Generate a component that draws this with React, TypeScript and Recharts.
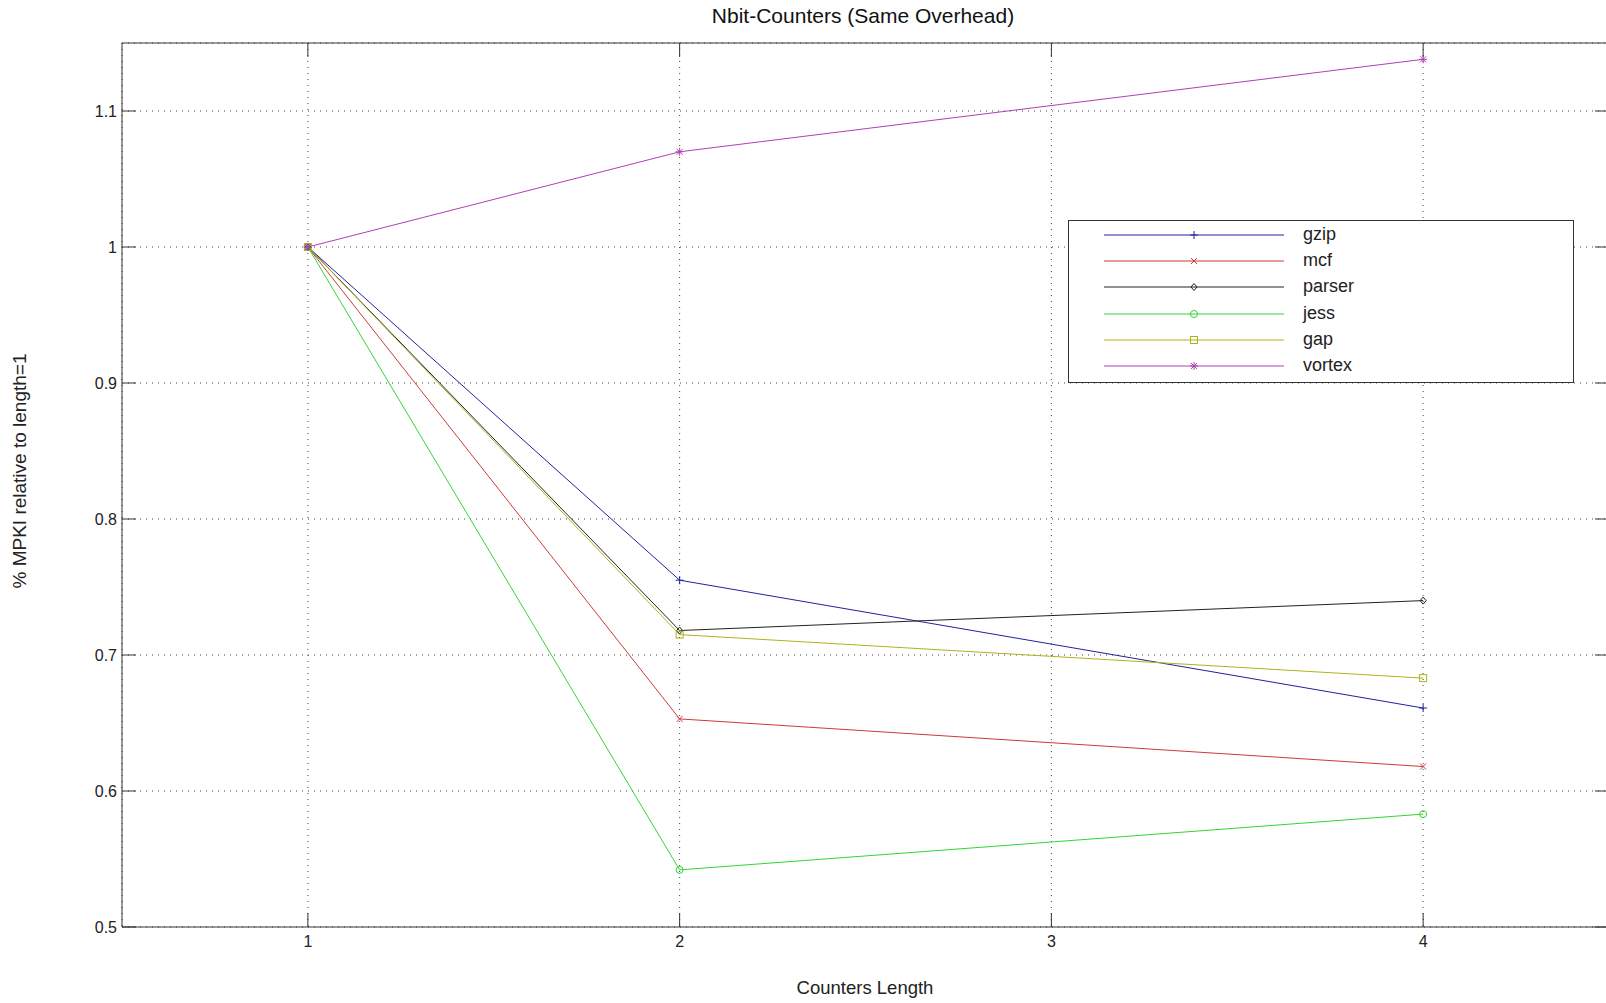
import { CartesianGrid, Line, LineChart, XAxis, YAxis } from 'recharts';

const lengths = [1, 2, 4];
const gzip = [1, 0.755, 0.661];
const mcf = [1, 0.653, 0.618];
const parser = [1, 0.718, 0.74];
const jess = [1, 0.542, 0.583];
const gap = [1, 0.715, 0.683];
const vortex = [1, 1.07, 1.138];

const xTicks = [1, 2, 3, 4];
const yTicks = [0.5, 0.6, 0.7, 0.8, 0.9, 1, 1.1];

const series = [
  { key: 'gzip', values: gzip, color: '#22229c', marker: 'plus' },
  { key: 'mcf', values: mcf, color: '#cc3b3b', marker: 'cross' },
  { key: 'parser', values: parser, color: '#222222', marker: 'diamond' },
  { key: 'jess', values: jess, color: '#33d633', marker: 'circle' },
  { key: 'gap', values: gap, color: '#b0b020', marker: 'square' },
  { key: 'vortex', values: vortex, color: '#b040b0', marker: 'star' },
];

const data = lengths.map((x, i) => {
  const row: Record<string, number> = { x };
  series.forEach((s) => { row[s.key] = s.values[i]; });
  return row;
});

const FONT = '"Liberation Sans", Arial, sans-serif';
const AXIS = '#333';

function Marker({ kind, cx, cy, color }: { kind: string; cx: number; cy: number; color: string }) {
  const p = { stroke: color, strokeWidth: 1, fill: 'none' };
  switch (kind) {
    case 'plus':
      return <g {...p}><line x1={cx - 4} y1={cy} x2={cx + 4} y2={cy} /><line x1={cx} y1={cy - 4} x2={cx} y2={cy + 4} /></g>;
    case 'cross':
      return <g {...p}><line x1={cx - 3} y1={cy - 3} x2={cx + 3} y2={cy + 3} /><line x1={cx - 3} y1={cy + 3} x2={cx + 3} y2={cy - 3} /></g>;
    case 'diamond':
      return <polygon {...p} points={`${cx},${cy - 3.5} ${cx + 3},${cy} ${cx},${cy + 3.5} ${cx - 3},${cy}`} />;
    case 'circle':
      return <circle {...p} cx={cx} cy={cy} r={3.5} />;
    case 'square':
      return <rect {...p} x={cx - 3.5} y={cy - 3.5} width={7} height={7} />;
    default:
      return (
        <g {...p}>
          <line x1={cx - 4} y1={cy} x2={cx + 4} y2={cy} />
          <line x1={cx} y1={cy - 4} x2={cx} y2={cy + 4} />
          <line x1={cx - 3} y1={cy - 3} x2={cx + 3} y2={cy + 3} />
          <line x1={cx - 3} y1={cy + 3} x2={cx + 3} y2={cy - 3} />
        </g>
      );
  }
}

const BottomTick = ({ x, y, payload }: any) => (
  <g>
    <line x1={x} y1={y} x2={x} y2={y - 14} stroke={AXIS} />
    <text x={x} y={y + 20} textAnchor="middle" fontSize={16} fontFamily={FONT} fill="#222">{payload.value}</text>
  </g>
);
const TopTick = ({ x, y }: any) => <line x1={x} y1={y} x2={x} y2={y + 14} stroke={AXIS} />;
const LeftTick = ({ x, y, payload }: any) => (
  <g>
    <line x1={x} y1={y} x2={x + 14} y2={y} stroke={AXIS} />
    <text x={x - 5} y={y + 6} textAnchor="end" fontSize={16} fontFamily={FONT} fill="#222">{payload.value}</text>
  </g>
);
const RightTick = ({ x, y }: any) => <line x1={x} y1={y} x2={x - 14} y2={y} stroke={AXIS} />;

function LegendBox() {
  return (
    <div style={{ position: 'absolute', left: 1068, top: 220, width: 504, height: 161, border: '1px solid #333', background: '#fff', fontFamily: FONT, fontSize: 18, color: '#222' }}>
      {series.map((s, i) => (
        <div key={s.key} style={{ position: 'absolute', left: 0, top: 1 + i * 26.2, height: 26, width: 504 }}>
          <svg width={190} height={26} style={{ position: 'absolute', left: 30 }}>
            <line x1={5} y1={13} x2={185} y2={13} stroke={s.color} />
            <Marker kind={s.marker} cx={95} cy={13} color={s.color} />
          </svg>
          <span style={{ position: 'absolute', left: 234, top: 2 }}>{s.key}</span>
        </div>
      ))}
    </div>
  );
}

export default function App() {
  return (
    <div style={{ position: 'absolute', left: 0, top: 0, width: 1606, height: 1003, overflow: 'hidden', background: '#fff' }}>
      <div style={{ position: 'absolute', left: 0, top: 4, width: 1726, textAlign: 'center', fontFamily: FONT, fontSize: 21, color: '#111' }}>
        Nbit-Counters (Same Overhead)
      </div>
      <div style={{ position: 'absolute', left: 0, top: 977, width: 1730, textAlign: 'center', fontFamily: FONT, fontSize: 18.5, color: '#222' }}>
        Counters Length
      </div>
      <div style={{ position: 'absolute', left: 20, top: 471, transform: 'translate(-50%, -50%) rotate(-90deg)', whiteSpace: 'nowrap', fontFamily: FONT, fontSize: 19, color: '#222' }}>
        % MPKI relative to length=1
      </div>
      <LineChart width={1620} height={1003} data={data} margin={{ top: 42, right: 10, bottom: 36, left: 62 }}>
        <CartesianGrid stroke="#444" strokeDasharray="1 5" />
        <XAxis dataKey="x" type="number" domain={[0.5, 4.5]} ticks={xTicks} allowDataOverflow
          height={40} tickSize={0} tickMargin={0} tick={<BottomTick />} axisLine={{ stroke: AXIS }} tickLine={false} />
        <XAxis xAxisId="top" orientation="top" dataKey="x" type="number" domain={[0.5, 4.5]} ticks={xTicks} allowDataOverflow
          height={1} tickSize={0} tickMargin={0} tick={<TopTick />} axisLine={{ stroke: AXIS }} tickLine={false} />
        <YAxis type="number" domain={[0.5, 1.15]} ticks={yTicks} allowDataOverflow
          width={60} tickSize={0} tickMargin={0} tick={<LeftTick />} axisLine={{ stroke: AXIS }} tickLine={false} />
        <YAxis yAxisId="right" orientation="right" type="number" domain={[0.5, 1.15]} ticks={yTicks} allowDataOverflow
          width={1} tickSize={0} tickMargin={0} tick={<RightTick />} axisLine={{ stroke: AXIS }} tickLine={false} />
        {series.map((s) => (
          <Line key={s.key} dataKey={s.key} type="linear" stroke={s.color} strokeWidth={1} isAnimationActive={false}
            dot={(p: any) => <Marker key={`${s.key}-${p.index}`} kind={s.marker} cx={p.cx} cy={p.cy} color={s.color} />}
            activeDot={false} />
        ))}
      </LineChart>
      <LegendBox />
    </div>
  );
}
